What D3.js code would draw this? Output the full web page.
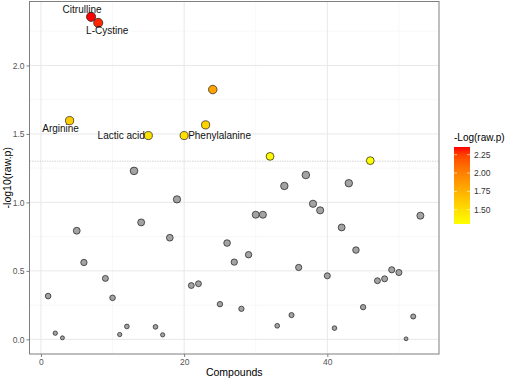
<!DOCTYPE html>
<meta charset="utf-8" />
<script src="https://d3js.org/d3.v7.min.js"></script>
<style>
  body { margin: 0; background: white; }
  text { font-family: "Liberation Sans", Arial, sans-serif; }
</style>
<body>
<svg id="chart" width="505" height="380"></svg>
<script>
  // compound index and -log10(raw p)
  const compounds = [1,2,3,4,5,6,7,8,9,10,11,12,13,14,15,16,17,18,19,20,21,22,23,24,25,26,27,
                     28,29,30,31,32,33,34,35,36,37,38,39,40,41,42,43,44,45,46,47,48,49,50,51,52,53];
  const logP = [0.316,0.045,0.011,1.597,0.793,0.561,2.355,2.311,0.445,0.303,0.035,0.094,1.23,0.854,
                1.488,0.091,0.033,0.742,1.022,1.488,0.393,0.406,1.566,1.824,0.257,0.703,0.564,0.223,
                0.618,0.91,0.91,1.336,0.099,1.12,0.177,0.525,1.2,0.99,0.942,0.464,0.082,0.817,1.14,
                0.652,0.235,1.305,0.428,0.442,0.508,0.488,0.004,0.167,0.903];
  const names = {4: "Arginine", 7: "Citrulline", 8: "L-Cystine", 15: "Lactic acid", 20: "Phenylalanine"};
  const xTicks = [0, 20, 40];
  const yTicks = [0, 0.5, 1, 1.5, 2];
  const legendTicks = [1.5, 1.75, 2, 2.25];

  const threshold = -Math.log10(0.05);

  const svg = d3.select("#chart");
  const pLeft = 29.5, pRight = 439, pTop = 1.5, pBottom = 354;

  const x = d3.scaleLinear().domain([-1.6, 55.6]).range([pLeft, pRight]);
  const y = d3.scaleLinear().domain([-0.107, 2.467]).range([pBottom, pTop]);
  const r = d3.scaleSqrt().domain([0, 2.36]).range([1.8, 4.6]);

  const sig = logP.filter(v => v > threshold);
  const color = d3.scaleLinear().domain([d3.min(sig), d3.max(sig)])
    .range(["#ffff00", "#ff0000"]).interpolate(d3.interpolateLab);

  // panel background + grid
  svg.append("rect").attr("x", pLeft).attr("y", pTop)
    .attr("width", pRight - pLeft).attr("height", pBottom - pTop).attr("fill", "white");

  const grid = svg.append("g");
  [10, 30, 50].forEach(v => grid.append("line")
    .attr("x1", x(v)).attr("x2", x(v)).attr("y1", pTop).attr("y2", pBottom)
    .attr("stroke", "#f3f3f3").attr("stroke-width", 0.6));
  [0.25, 0.75, 1.25, 1.75, 2.25].forEach(v => grid.append("line")
    .attr("x1", pLeft).attr("x2", pRight).attr("y1", y(v)).attr("y2", y(v))
    .attr("stroke", "#f3f3f3").attr("stroke-width", 0.6));
  xTicks.forEach(v => grid.append("line")
    .attr("x1", x(v)).attr("x2", x(v)).attr("y1", pTop).attr("y2", pBottom)
    .attr("stroke", "#e8e8e8").attr("stroke-width", 1));
  yTicks.forEach(v => grid.append("line")
    .attr("x1", pLeft).attr("x2", pRight).attr("y1", y(v)).attr("y2", y(v))
    .attr("stroke", "#e8e8e8").attr("stroke-width", 1));

  // p = 0.05 line
  svg.append("line")
    .attr("x1", pLeft).attr("x2", pRight).attr("y1", y(threshold)).attr("y2", y(threshold))
    .attr("stroke", "#c8c8c8").attr("stroke-width", 0.8).attr("stroke-dasharray", "1.5,1");

  // points
  const pts = compounds.map((c, i) => ({c: c, v: logP[i]}));
  svg.append("g").selectAll("circle")
    .data(pts)
    .join("circle")
    .attr("cx", d => x(d.c))
    .attr("cy", d => y(d.v))
    .attr("r", d => r(d.v))
    .attr("fill", d => d.v > threshold ? color(d.v) : "#a3a3a3")
    .attr("stroke", "#1a1a1a")
    .attr("stroke-width", 0.7);

  // labels
  const labelPos = {
    4: {dx: -9, dy: 11, anchor: "middle"},
    7: {dx: -9, dy: -4, anchor: "middle"},
    8: {dx: 9, dy: 11, anchor: "middle"},
    15: {dx: -3.5, dy: 3.5, anchor: "end"},
    20: {dx: 4, dy: 3.5, anchor: "start"}
  };
  svg.append("g").selectAll("text")
    .data(pts.filter(d => names[d.c]))
    .join("text")
    .attr("x", d => x(d.c) + labelPos[d.c].dx)
    .attr("y", d => y(d.v) + labelPos[d.c].dy)
    .attr("text-anchor", d => labelPos[d.c].anchor)
    .attr("font-size", 10)
    .attr("fill", "#111")
    .text(d => names[d.c]);

  // panel border
  svg.append("rect").attr("x", pLeft).attr("y", pTop)
    .attr("width", pRight - pLeft).attr("height", pBottom - pTop)
    .attr("fill", "none").attr("stroke", "#7f7f7f").attr("stroke-width", 1);

  // axes
  const xAxis = svg.append("g").attr("transform", `translate(0,${pBottom})`)
    .call(d3.axisBottom(x).tickValues(xTicks).tickSize(3).tickPadding(2).tickFormat(d3.format("d")));
  const yAxis = svg.append("g").attr("transform", `translate(${pLeft},0)`)
    .call(d3.axisLeft(y).tickValues(yTicks).tickSize(3).tickPadding(2).tickFormat(d3.format(".1f")));
  [xAxis, yAxis].forEach(a => {
    a.select(".domain").remove();
    a.selectAll(".tick line").attr("stroke", "#7f7f7f");
    a.selectAll(".tick text").attr("fill", "#555").attr("font-size", 8.5)
      .attr("font-family", "Liberation Sans, Arial, sans-serif");
  });

  svg.append("text").attr("x", (pLeft + pRight) / 2).attr("y", 376)
    .attr("text-anchor", "middle").attr("font-size", 10.5).text("Compounds");
  svg.append("text")
    .attr("transform", `translate(11,${(pTop + pBottom) / 2}) rotate(-90)`)
    .attr("text-anchor", "middle").attr("font-size", 10.5).text("-log10(raw.p)");

  // colour legend
  const lx = 454, lw = 16, ly0 = 147, ly1 = 224;
  const ly = d3.scaleLinear().domain(color.domain()).range([ly1, ly0]);
  const grad = svg.append("defs").append("linearGradient")
    .attr("id", "grad").attr("x1", 0).attr("x2", 0).attr("y1", 1).attr("y2", 0);
  d3.range(0, 1.0001, 0.1).forEach(t => {
    const v = color.domain()[0] + t * (color.domain()[1] - color.domain()[0]);
    grad.append("stop").attr("offset", t).attr("stop-color", color(v));
  });
  svg.append("text").attr("x", lx).attr("y", 141).attr("font-size", 10).text("-Log(raw.p)");
  svg.append("rect").attr("x", lx).attr("y", ly0).attr("width", lw).attr("height", ly1 - ly0)
    .attr("fill", "url(#grad)");
  legendTicks.forEach(v => {
    svg.append("line").attr("x1", lx).attr("x2", lx + 3).attr("y1", ly(v)).attr("y2", ly(v))
      .attr("stroke", "white").attr("stroke-width", 0.6);
    svg.append("line").attr("x1", lx + lw - 3).attr("x2", lx + lw).attr("y1", ly(v)).attr("y2", ly(v))
      .attr("stroke", "white").attr("stroke-width", 0.6);
    svg.append("text").attr("x", lx + lw + 4).attr("y", ly(v) + 3)
      .attr("font-size", 8.5).attr("fill", "#333").text(d3.format(".2f")(v));
  });
</script>
</body>
